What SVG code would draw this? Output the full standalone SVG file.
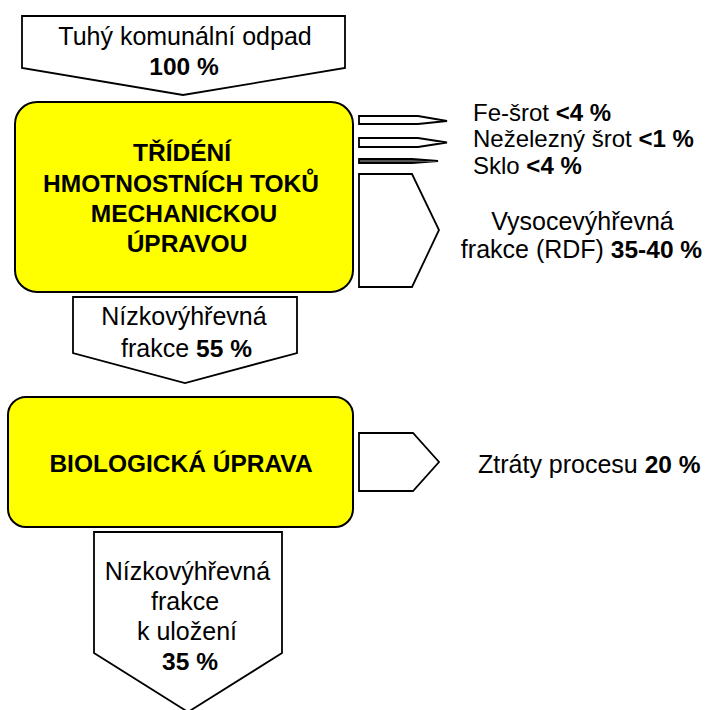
<svg xmlns="http://www.w3.org/2000/svg" width="707" height="710" viewBox="0 0 707 710">
<style>
  text { font-family: "Liberation Sans", Arial, sans-serif; font-size: 25px; fill: #000; }
  .b { font-weight: bold; font-size: 24.5px; }
  .s { font-size: 24px; }
  .s .b { font-size: 24px; }
  .c { text-anchor: middle; }
  .arr { fill: #fff; stroke: #000; stroke-width: 1.8; stroke-linejoin: miter; }
  .box { fill: #ffff00; stroke: #000; stroke-width: 2; }
</style>
<rect width="707" height="710" fill="#fff"/>

<g id="input">
  <polygon class="arr" points="22,16 345,16 345,68 183,95 22,68"/>
  <text x="185" y="45" class="c">Tuhý komunální odpad</text>
  <text x="184" y="75" class="b c">100 %</text>
</g>

<g id="mechanical">
  <rect class="box" x="15" y="102" width="338" height="190" rx="22" ry="22"/>
  <text x="182" y="161" class="b c">TŘÍDÉNÍ</text>
  <text x="181" y="192" class="b c">HMOTNOSTNÍCH TOKŮ</text>
  <text x="184" y="222" class="b c">MECHANICKOU</text>
  <text x="187" y="252" class="b c">ÚPRAVOU</text>
</g>

<g id="connectors">
  <polygon class="arr" points="359,116 418,116 447,121 418,124 359,124"/>
  <polygon class="arr" points="359,138 418,138 447,142.5 418,147 359,147"/>
  <polygon class="arr" points="359,159 412,159 438,161 412,163 359,163" style="fill:#555"/>
</g>

<g id="fe">
  <text x="473" y="120.5" class="s">Fe-šrot <tspan class="b">&lt;4 %</tspan></text>
</g>
<g id="nonferrous">
  <text x="473" y="147" class="s">Neželezný šrot <tspan class="b">&lt;1 %</tspan></text>
</g>
<g id="glass">
  <text x="473" y="173.5" class="s">Sklo <tspan class="b">&lt;4 %</tspan></text>
</g>

<g id="rdf">
  <polygon class="arr" points="359,174 412,174 439,230 412,287 359,287"/>
  <text x="582.5" y="230" class="c">Vysocevýhřevná</text>
  <text x="581.5" y="258" class="c">frakce (RDF) <tspan class="b">35-40 %</tspan></text>
</g>

<g id="lowcal">
  <polygon class="arr" points="73,297 297,297 297,353 185,383 73,353"/>
  <text x="184" y="325" class="c">Nízkovýhřevná</text>
  <text x="186.5" y="357" class="c">frakce <tspan class="b">55 %</tspan></text>
</g>

<g id="biological">
  <rect class="box" x="8" y="397" width="345" height="130" rx="18" ry="18"/>
  <text x="181" y="472" class="b c">BIOLOGICKÁ ÚPRAVA</text>
</g>

<g id="losses">
  <polygon class="arr" points="359,433 413,433 439,462 413,491 359,491"/>
  <text x="478" y="473">Ztráty procesu <tspan class="b">20 %</tspan></text>
</g>

<g id="landfill">
  <polygon class="arr" points="94,532 282,532 282,653 188,712 94,653"/>
  <text x="187.5" y="580" class="c">Nízkovýhřevná</text>
  <text x="185" y="610" class="c">frakce</text>
  <text x="187" y="640" class="c">k uložení</text>
  <text x="190" y="670" class="b c">35 %</text>
</g>
</svg>
